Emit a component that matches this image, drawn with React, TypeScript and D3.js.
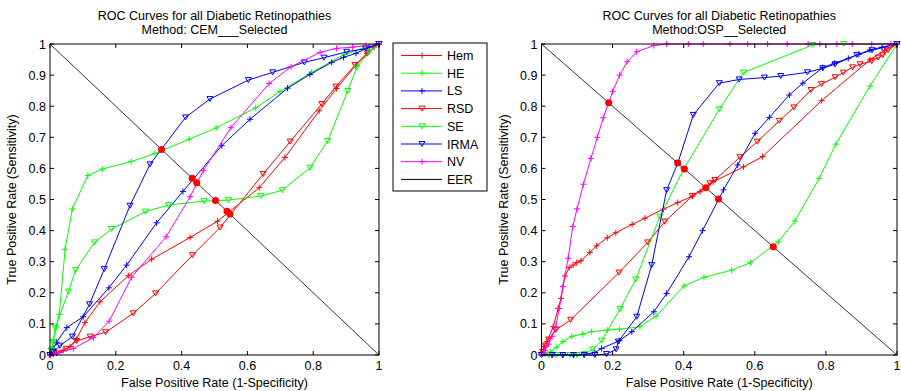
import React from 'react';
import * as d3 from 'd3';

type Pt = [number, number];

// ---- data (FPR, TPR) ----
const cemHem: Pt[] = [[0,0],[0.01,0.003],[0.02,0.007],[0.04,0.015],[0.061,0.027],[0.08,0.05],[0.106,0.104],[0.152,0.171],[0.238,0.255],[0.309,0.308],[0.426,0.378],[0.509,0.43],[0.636,0.538],[0.714,0.635],[0.818,0.785],[0.871,0.857],[0.93,0.932],[0.963,0.97],[0.985,0.99],[1,1]];
const cemHE: Pt[] = [[0,0],[0.005,0.02],[0.01,0.05],[0.02,0.09],[0.028,0.13],[0.046,0.34],[0.068,0.47],[0.115,0.577],[0.159,0.598],[0.247,0.622],[0.319,0.648],[0.423,0.694],[0.505,0.73],[0.625,0.795],[0.699,0.847],[0.795,0.909],[0.895,0.967],[0.95,0.985],[1,1]];
const cemLS: Pt[] = [[0,0],[0.01,0.02],[0.02,0.041],[0.051,0.088],[0.101,0.123],[0.179,0.216],[0.233,0.289],[0.324,0.425],[0.404,0.526],[0.522,0.673],[0.608,0.758],[0.722,0.858],[0.79,0.902],[0.856,0.941],[0.892,0.957],[0.93,0.97],[0.97,0.99],[1,1]];
const cemRSD: Pt[] = [[0,0],[0.02,0.005],[0.05,0.02],[0.081,0.045],[0.122,0.059],[0.169,0.073],[0.253,0.134],[0.321,0.198],[0.433,0.321],[0.517,0.41],[0.648,0.582],[0.73,0.686],[0.826,0.807],[0.869,0.863],[0.927,0.932],[0.965,0.97],[1,1]];
const cemSE: Pt[] = [[0,0],[0.003,0.015],[0.01,0.038],[0.016,0.088],[0.056,0.204],[0.078,0.273],[0.135,0.362],[0.187,0.405],[0.29,0.461],[0.36,0.482],[0.468,0.495],[0.542,0.498],[0.641,0.511],[0.706,0.53],[0.79,0.602],[0.844,0.688],[0.905,0.849],[0.932,0.924],[0.97,0.975],[1,1]];
const cemIRMA: Pt[] = [[0,0],[0.01,0.01],[0.03,0.03],[0.068,0.059],[0.12,0.163],[0.165,0.276],[0.243,0.48],[0.304,0.613],[0.412,0.764],[0.486,0.823],[0.603,0.884],[0.677,0.909],[0.773,0.941],[0.833,0.956],[0.902,0.975],[0.96,0.985],[1,1]];
const cemNV: Pt[] = [[0,0],[0.01,0.002],[0.03,0.008],[0.071,0.021],[0.132,0.056],[0.18,0.109],[0.248,0.25],[0.353,0.38],[0.426,0.509],[0.466,0.593],[0.55,0.731],[0.666,0.873],[0.733,0.927],[0.821,0.973],[0.871,0.986],[0.92,0.99],[0.96,0.995],[1,1]];
const cemEer: Pt[] = [[0.339,0.661],[0.432,0.568],[0.446,0.554],[0.503,0.497],[0.538,0.462],[0.547,0.453]];

const ospHem: Pt[] = [[0,0],[0.007,0.027],[0.015,0.043],[0.033,0.091],[0.047,0.15],[0.055,0.182],[0.066,0.254],[0.078,0.281],[0.089,0.289],[0.099,0.297],[0.111,0.303],[0.136,0.33],[0.155,0.351],[0.185,0.377],[0.209,0.393],[0.255,0.42],[0.291,0.44],[0.343,0.469],[0.383,0.49],[0.425,0.511],[0.446,0.525],[0.483,0.557],[0.568,0.605],[0.622,0.638],[0.788,0.818],[0.924,0.949],[0.965,0.98],[1,1]];
const ospHE: Pt[] = [[0,0],[0.01,0.003],[0.025,0.01],[0.043,0.025],[0.06,0.043],[0.085,0.06],[0.116,0.067],[0.141,0.075],[0.185,0.08],[0.219,0.083],[0.277,0.091],[0.322,0.125],[0.401,0.222],[0.457,0.25],[0.535,0.273],[0.588,0.297],[0.666,0.364],[0.713,0.431],[0.781,0.568],[0.828,0.678],[0.924,0.865],[1,1]];
const ospLS: Pt[] = [[0,0],[0.03,0],[0.06,0],[0.09,0],[0.12,0.002],[0.15,0.008],[0.169,0.021],[0.219,0.046],[0.254,0.075],[0.316,0.139],[0.352,0.198],[0.415,0.316],[0.453,0.4],[0.512,0.531],[0.552,0.611],[0.601,0.713],[0.641,0.764],[0.697,0.836],[0.735,0.874],[0.791,0.924],[0.824,0.938],[0.863,0.954],[0.893,0.967],[0.924,0.981],[0.958,0.99],[1,1]];
const ospRSD: Pt[] = [[0,0],[0.003,0.01],[0.01,0.03],[0.02,0.05],[0.04,0.08],[0.082,0.113],[0.218,0.265],[0.299,0.362],[0.347,0.429],[0.424,0.511],[0.474,0.552],[0.488,0.563],[0.558,0.636],[0.607,0.686],[0.669,0.753],[0.71,0.796],[0.758,0.852],[0.788,0.871],[0.826,0.893],[0.849,0.908],[0.875,0.925],[0.896,0.935],[0.929,0.945],[0.947,0.956],[0.96,0.964],[0.975,0.98],[1,1]];
const ospSE: Pt[] = [[0,0],[0.02,0],[0.04,0],[0.06,0],[0.08,0],[0.1,0],[0.12,0.003],[0.144,0.018],[0.169,0.046],[0.221,0.148],[0.265,0.243],[0.333,0.445],[0.399,0.595],[0.5,0.79],[0.568,0.908],[0.763,0.997],[0.85,1],[1,1]];
const ospIRMA: Pt[] = [[0,0],[0.03,0],[0.06,0],[0.09,0],[0.12,0],[0.15,0],[0.183,0.003],[0.21,0.018],[0.216,0.043],[0.268,0.123],[0.31,0.289],[0.352,0.53],[0.383,0.616],[0.427,0.772],[0.5,0.874],[0.556,0.886],[0.627,0.892],[0.673,0.897],[0.748,0.909],[0.791,0.922],[0.826,0.935],[0.887,0.965],[0.93,0.98],[1,1]];
const ospNV: Pt[] = [[0,0],[0.005,0.005],[0.01,0.015],[0.02,0.035],[0.03,0.06],[0.04,0.091],[0.05,0.15],[0.06,0.22],[0.075,0.311],[0.088,0.413],[0.1,0.47],[0.118,0.549],[0.139,0.632],[0.157,0.7],[0.174,0.763],[0.2,0.847],[0.22,0.9],[0.241,0.943],[0.268,0.975],[0.316,0.995],[0.352,1],[0.413,1],[0.455,1],[0.53,1],[0.58,1],[0.636,1],[0.691,1],[0.75,1],[0.783,1],[0.831,1],[0.874,1],[0.929,1],[0.983,1],[1,1]];
const ospEer: Pt[] = [[0.189,0.811],[0.383,0.617],[0.402,0.598],[0.462,0.538],[0.498,0.502],[0.652,0.348]];

const seriesNames = ['Hem', 'HE', 'LS', 'RSD', 'SE', 'IRMA', 'NV'];
const seriesColors = ['#ff0000', '#00ff00', '#0000ff', '#ff0000', '#00ff00', '#0000ff', '#ff00ff'];
const seriesMarkers = ['plus', 'plus', 'plus', 'tri', 'tri', 'tri', 'plus'];
const xTicks = [0, 0.2, 0.4, 0.6, 0.8, 1];
const yTicks = [0, 0.1, 0.2, 0.3, 0.4, 0.5, 0.6, 0.7, 0.8, 0.9, 1];

const FONT = '"Liberation Sans", Arial, Helvetica, sans-serif';

function Marker({ kind, x, y, color }: { kind: string; x: number; y: number; color: string }) {
  if (kind === 'plus') {
    return (
      <path d={`M${x - 3},${y}H${x + 3}M${x},${y - 3}V${y + 3}`} stroke={color} strokeWidth={1} fill="none" />
    );
  }
  return (
    <path d={`M${x - 3},${y - 2.5}H${x + 3}L${x},${y + 2.5}Z`} stroke={color} strokeWidth={1} fill="none" />
  );
}

function RocPanel({ left, right, top, bottom, series, eer, subtitle }: {
  left: number; right: number; top: number; bottom: number;
  series: Pt[][]; eer: Pt[]; subtitle: string;
}) {
  const x = d3.scaleLinear().domain([0, 1]).range([left, right]);
  const y = d3.scaleLinear().domain([0, 1]).range([bottom, top]);
  const line = d3.line<Pt>().x(d => x(d[0])).y(d => y(d[1]));
  const cx = (left + right) / 2;
  const tk = 4;

  return (
    <g fontFamily={FONT} fontSize={12.5}>
      <text x={cx} y={19.5} textAnchor="middle">ROC Curves for all Diabetic Retinopathies</text>
      <text x={cx} y={34} textAnchor="middle">{subtitle}</text>

      {series.map((s, i) => (
        <g key={seriesNames[i]}>
          <path d={line(s) || ''} fill="none" stroke={seriesColors[i]} strokeWidth={1} />
          {s.map((p, j) => (
            <Marker key={j} kind={seriesMarkers[i]} x={x(p[0])} y={y(p[1])} color={seriesColors[i]} />
          ))}
        </g>
      ))}
      <path d={line([[0, 1], [1, 0]]) || ''} stroke="#000" strokeWidth={0.8} fill="none" />
      {eer.map((p, i) => (
        <circle key={i} cx={x(p[0])} cy={y(p[1])} r={3.5} fill="#ff0000" />
      ))}

      <rect x={left} y={top} width={right - left} height={bottom - top} fill="none" stroke="#000" strokeWidth={1} />
      {xTicks.map(t => (
        <g key={'x' + t}>
          <line x1={x(t)} x2={x(t)} y1={bottom} y2={bottom - tk} stroke="#000" />
          <line x1={x(t)} x2={x(t)} y1={top} y2={top + tk} stroke="#000" />
          <text x={x(t)} y={370} textAnchor="middle">{d3.format('~g')(t)}</text>
        </g>
      ))}
      {yTicks.map(t => (
        <g key={'y' + t}>
          <line x1={left} x2={left + tk} y1={y(t)} y2={y(t)} stroke="#000" />
          <line x1={right} x2={right - tk} y1={y(t)} y2={y(t)} stroke="#000" />
          <text x={left - 4} y={y(t) + 4.5} textAnchor="end">{d3.format('~g')(t)}</text>
        </g>
      ))}
      <text x={cx} y={387} textAnchor="middle">False Positive Rate (1-Specificity)</text>
      <text transform={`translate(${left - 34},${(top + bottom) / 2}) rotate(-90)`} textAnchor="middle">
        True Positive Rate (Sensitivity)
      </text>
    </g>
  );
}

function Legend({ x0, y0 }: { x0: number; y0: number }) {
  const names = [...seriesNames, 'EER'];
  const rowH = 17.7;
  return (
    <g fontFamily={FONT} fontSize={12.5}>
      <rect x={x0} y={y0} width={94} height={148} fill="#fff" stroke="#000" strokeWidth={1} />
      {names.map((n, i) => {
        const yy = y0 + 12.5 + i * rowH;
        const color = i < seriesColors.length ? seriesColors[i] : '#000';
        return (
          <g key={n}>
            <line x1={x0 + 8} x2={x0 + 49} y1={yy} y2={yy} stroke={color} strokeWidth={1} />
            {i < seriesMarkers.length && <Marker kind={seriesMarkers[i]} x={x0 + 29} y={yy} color={color} />}
            <text x={x0 + 54} y={yy + 4.5}>{n}</text>
          </g>
        );
      })}
    </g>
  );
}

export default function App() {
  return (
    <svg width={901} height={391} style={{ position: 'absolute', left: 0, top: 0, background: '#fff' }}>
      <RocPanel left={50} right={379} top={44} bottom={355}
        series={[cemHem, cemHE, cemLS, cemRSD, cemSE, cemIRMA, cemNV]} eer={cemEer}
        subtitle="Method: CEM___Selected" />
      <RocPanel left={541.5} right={897} top={44} bottom={355}
        series={[ospHem, ospHE, ospLS, ospRSD, ospSE, ospIRMA, ospNV]} eer={ospEer}
        subtitle="Method:OSP__Selected" />
      <Legend x0={393} y0={43} />
    </svg>
  );
}
